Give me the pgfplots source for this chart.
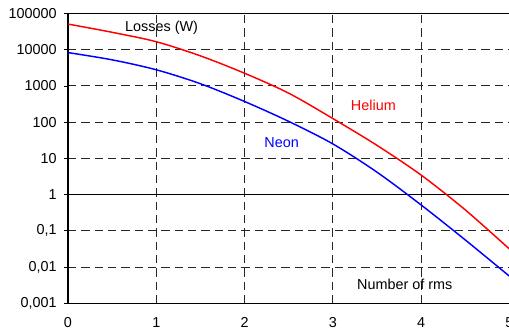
\documentclass[border=0pt]{standalone}
\usepackage{pgfplots}
\pgfplotsset{compat=1.18}
\usepackage{fontspec}
\setmainfont{Liberation Sans}
\begin{document}
\begin{tikzpicture}[x=1pt,y=1pt]
\begin{axis}[
  at={(0,0)}, anchor=south west,
  scale only axis, width=331pt, height=217.35pt,
  xmin=0, xmax=5, ymode=log, ymin=0.001, ymax=100000,
  axis lines=left,
  axis line style={-, black},
  x axis line style={line width=1.1pt},
  y axis line style={line width=1.5pt},
  xtick={0,1,2,3,4,5},
  ytick={0.001,0.01,0.1,1,10,100,1000,10000,100000},
  yticklabels={{0,001},{0,01},{0,1},1,10,100,1000,10000,100000},
  yminorticks=false,
  xtick style={draw=none},
  ytick style={black, line width=0.6pt},
  tick align=outside, major tick length=3pt,
  xmajorgrids, ymajorgrids,
  major grid style={black!85, line width=0.7pt, dash pattern=on 6.25pt off 3.75pt},
  tick label style={font=\fontsize{10.8}{13}\selectfont},
  /pgf/number format/assume math mode=true,
  yticklabel style={xshift=-2pt},
  xticklabel style={yshift=-4pt},
  clip=true,
]
\addplot[black, line width=0.75pt, forget plot] coordinates {(0,1) (5,1)};
\addplot[red, line width=1.1pt, smooth] coordinates {
(0,51000) (0.5,30200) (1,16600) (1.5,6760) (2,2240) (2.5,631) (3,126) (3.5,22.9) (4,3.47) (4.5,0.38) (5,0.0316)};
\addplot[blue, line width=1.1pt, smooth] coordinates {
(0,8320) (0.5,5250) (1,2790) (1.5,1150) (2,372) (2.5,105) (3,25.1) (3.5,4.17) (4,0.519) (4.5,0.0562) (5,0.00562)};
\node[font=\fontsize{10.8}{13}\selectfont] at (axis cs:1.06,40700) {Losses (W)};
\node[font=\fontsize{10.8}{13}\selectfont, text=red] at (axis cs:3.46,300) {Helium};
\node[font=\fontsize{10.8}{13}\selectfont, text=blue] at (axis cs:2.42,28) {Neon};
\node[font=\fontsize{10.8}{13}\selectfont] at (axis cs:3.815,0.0034) {Number of rms};
\draw[black, line width=0.75pt] (rel axis cs:0,1) -- (rel axis cs:1,1);
\end{axis}
\pgfresetboundingbox
\useasboundingbox (-51,-22.3) rectangle (330.75,227.45);
\end{tikzpicture}
\end{document}
